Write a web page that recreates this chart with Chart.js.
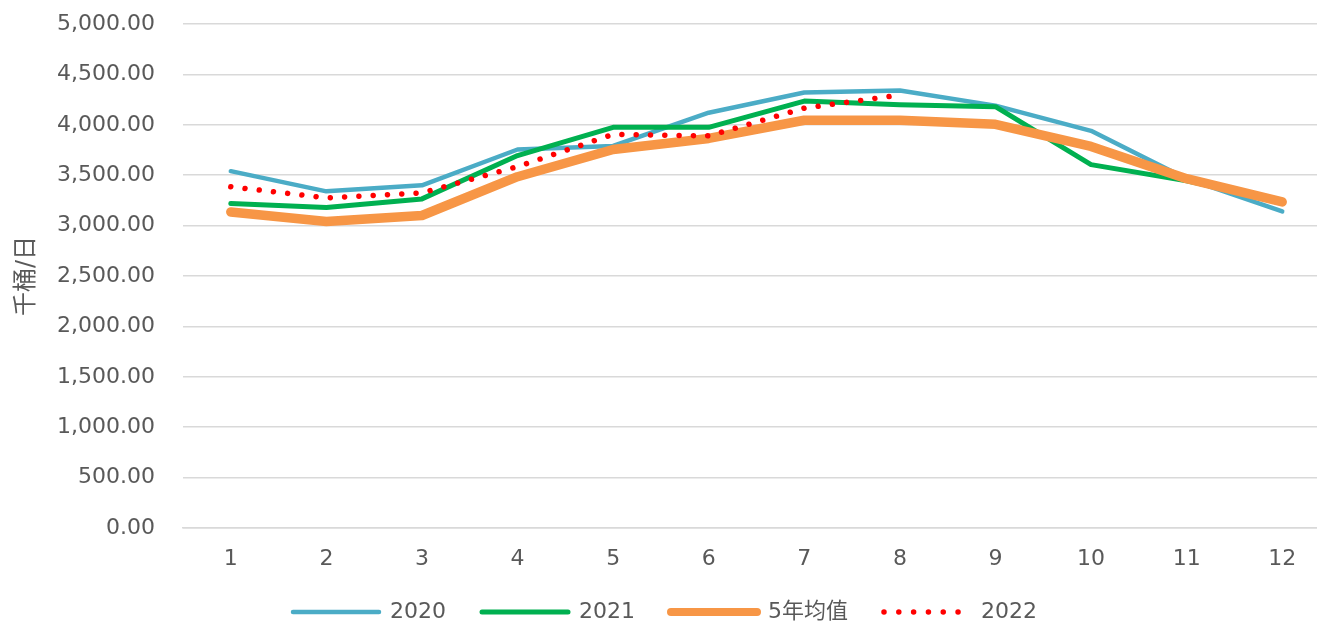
<!DOCTYPE html>
<html><head><meta charset="utf-8">
<script src="https://cdn.jsdelivr.net/npm/chart.js@4.4.0/dist/chart.umd.min.js"></script>
<style>
html,body{margin:0;padding:0;background:#fff;overflow:hidden;width:1317px;height:621px;}
#wrap{position:absolute;left:0;top:0;width:1340px;height:621px;}
</style></head>
<body><div id="wrap"><canvas id="c" width="1340" height="621"></canvas></div>
<script>
const categories = ['1','2','3','4','5','6','7','8','9','10','11','12'];
const s2020 = [3540, 3340, 3400, 3755, 3790, 4120, 4320, 4340, 4190, 3940, 3465, 3140];
const s2021 = [3220, 3180, 3265, 3695, 3975, 3975, 4235, 4200, 4180, 3605, 3445, 3235];
const sAvg = [3135, 3040, 3100, 3485, 3755, 3865, 4045, 4045, 4005, 3785, 3465, 3235];
const s2022 = [3385, 3275, 3325, 3585, 3905, 3890, 4165, 4295];
const seriesNames = ['2020', '2021', '5年均值', '2022'];
const yTitle = '千桶/日';

const FONT = "'DejaVu Sans', 'Noto Sans CJK SC', sans-serif";
const TXT = '#595959';

new Chart(document.getElementById('c'), {
  type: 'line',
  data: {
    labels: categories,
    datasets: [
      {label: seriesNames[0], data: s2020, borderColor: '#4BACC6', backgroundColor: '#4BACC6', borderWidth: 4.5, pointRadius: 0, order: 4, borderCapStyle: 'round', borderJoinStyle: 'round'},
      {label: seriesNames[1], data: s2021, borderColor: '#00B050', backgroundColor: '#00B050', borderWidth: 5, pointRadius: 0, order: 3, borderCapStyle: 'round', borderJoinStyle: 'round'},
      {label: seriesNames[2], data: sAvg, borderColor: '#F79646', backgroundColor: '#F79646', borderWidth: 9.5, pointRadius: 0, order: 2, borderCapStyle: 'round', borderJoinStyle: 'round'},
      {label: seriesNames[3], data: s2022, borderColor: '#FF0000', backgroundColor: '#FF0000', borderWidth: 5.5, pointRadius: 0, order: 1, borderCapStyle: 'round', borderDash: [0.01, 14.3]}
    ]
  },
  options: {
    responsive: false,
    animation: false,
    devicePixelRatio: 1,
    layout: {padding: {left: 0, right: 10, top: 24, bottom: -12}},
    plugins: {
      tooltip: {enabled: false},
      legend: {
        position: 'bottom',
        labels: {
          font: {family: FONT, size: 22},
          color: TXT,
          usePointStyle: true,
          pointStyleWidth: 86,
          boxHeight: 10,
          padding: 36,
          generateLabels: (chart) => chart.data.datasets.map((d, i) => ({
            text: d.label,
            strokeStyle: d.borderColor,
            fillStyle: d.borderColor,
            lineWidth: i === 2 ? 8 : (i === 1 ? 5 : (i === 3 ? 5.5 : 4.5)),
            lineCap: 'round',
            lineDash: i === 3 ? [0.01, 14.8] : [],
            pointStyle: 'line',
            fontColor: TXT,
            datasetIndex: i,
            hidden: false
          }))
        }
      }
    },
    scales: {
      x: {
        offset: true,
        grid: {display: false, drawTicks: false},
        border: {display: true, color: '#D9D9D9', width: 1.5},
        ticks: {font: {family: FONT, size: 22}, color: TXT, padding: 18},
        afterFit: s => { s.height = 37; }
      },
      y: {
        min: 0, max: 5000,
        ticks: {stepSize: 500, font: {family: FONT, size: 22}, color: TXT, padding: 28,
          callback: v => v.toLocaleString('en-US', {minimumFractionDigits: 2, maximumFractionDigits: 2})},
        grid: {color: '#D9D9D9', lineWidth: 1.5, drawTicks: false},
        border: {display: false},
        title: {display: true, text: yTitle, font: {family: FONT, size: 24}, color: TXT, padding: {top: 12, bottom: 0}},
        afterFit: s => { s.width = 183; s.paddingTop = 0; s.paddingBottom = 0; }
      }
    }
  }
});
</script></body></html>
